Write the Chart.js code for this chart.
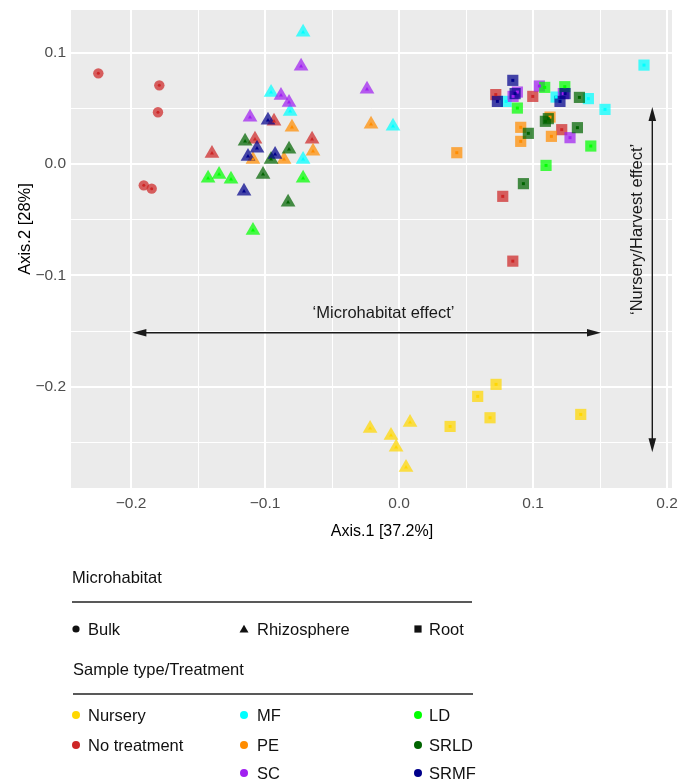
<!DOCTYPE html>
<html>
<head>
<meta charset="utf-8">
<script src="https://cdn.jsdelivr.net/npm/chart.js@4.4.1/dist/chart.umd.min.js"></script>
<style>
html,body{margin:0;padding:0;background:#fff;width:694px;height:782px;overflow:hidden;}
#wrap{position:absolute;left:0;top:0;width:694px;height:560px;}
#legend{position:absolute;left:0;top:0;width:694px;height:782px;pointer-events:none;}
</style>
</head>
<body>
<div id="wrap"><canvas id="c" width="694" height="560"></canvas></div>
<svg id="legend" width="694" height="782" xmlns="http://www.w3.org/2000/svg"></svg>
<script>
// ---------------- DATA ----------------
const habitats = ['Bulk', 'Rhizosphere', 'Root'];
const treatments = ['Nursery', 'No treatment', 'MF', 'PE', 'SC', 'LD', 'SRLD', 'SRMF'];
const xTickValues = [-0.2, -0.1, 0.0, 0.1, 0.2];
const yTickValues = [-0.2, -0.1, 0.0, 0.1];
const xTitle = 'Axis.1 [37.2%]';
const yTitle = 'Axis.2 [28%]';

// [Axis.1, Axis.2] coordinates per sample
const noTreatmentBulk = [[-0.2244, 0.0815], [-0.1789, 0.0707], [-0.1799, 0.0465], [-0.1905, -0.0191], [-0.1846, -0.0221]];

const nurseryRhizosphere = [[-0.0216, -0.2375], [-0.0060, -0.2438], [-0.0022, -0.2545], [0.0082, -0.2321], [0.0052, -0.2725]];
const noTreatmentRhizosphere = [[-0.0933, 0.0384], [-0.1075, 0.0222], [-0.1396, 0.0096], [-0.0649, 0.0222]];
const mfRhizosphere = [[-0.0716, 0.1183], [-0.0955, 0.0644], [-0.0813, 0.0473], [-0.0716, 0.0042], [-0.0045, 0.0339]];
const peRhizosphere = [[-0.0799, 0.0330], [-0.1090, 0.0042], [-0.0858, 0.0042], [-0.0642, 0.0114], [-0.0209, 0.0357]];
const scRhizosphere = [[-0.0731, 0.0878], [-0.0881, 0.0617], [-0.0821, 0.0554], [-0.1112, 0.0420], [-0.0239, 0.0671]];
const ldRhizosphere = [[-0.1425, -0.0128], [-0.1343, -0.0093], [-0.1254, -0.0137], [-0.0716, -0.0128], [-0.1090, -0.0596]];
const srldRhizosphere = [[-0.1149, 0.0204], [-0.0955, 0.0042], [-0.0821, 0.0132], [-0.1015, -0.0093], [-0.0828, -0.0344]];
const srmfRhizosphere = [[-0.0978, 0.0393], [-0.1060, 0.0141], [-0.1127, 0.0069], [-0.0925, 0.0087], [-0.1157, -0.0245]];

const nurseryRoot = [[0.0724, -0.1979], [0.0587, -0.2087], [0.0679, -0.2279], [0.0381, -0.2357], [0.1356, -0.2249]];
const noTreatmentRoot = [[0.0722, 0.0624], [0.0998, 0.0608], [0.1214, 0.0309], [0.0774, -0.0290], [0.0849, -0.0872]];
const mfRoot = [[0.0799, 0.0563], [0.1172, 0.0602], [0.1413, 0.0588], [0.1537, 0.0491], [0.1828, 0.0889]];
const peRoot = [[0.1127, 0.0422], [0.0908, 0.0330], [0.0908, 0.0204], [0.1137, 0.0249], [0.0431, 0.0102]];
const scRoot = [[0.1047, 0.0701], [0.0883, 0.0647], [0.0851, 0.0608], [0.1226, 0.0633], [0.1276, 0.0237]];
const ldRoot = [[0.1087, 0.0689], [0.1237, 0.0695], [0.0883, 0.0503], [0.1431, 0.0162], [0.1097, -0.0012]];
const srldRoot = [[0.1346, 0.0599], [0.1092, 0.0384], [0.1114, 0.0408], [0.0965, 0.0276], [0.1331, 0.0327], [0.0928, -0.0176]];
const srmfRoot = [[0.0849, 0.0752], [0.0734, 0.0563], [0.0866, 0.0633], [0.1201, 0.0563], [0.1239, 0.0633]];

const samples = [
  ['No treatment', 'Bulk', noTreatmentBulk],
  ['Nursery', 'Rhizosphere', nurseryRhizosphere],
  ['No treatment', 'Rhizosphere', noTreatmentRhizosphere],
  ['MF', 'Rhizosphere', mfRhizosphere],
  ['PE', 'Rhizosphere', peRhizosphere],
  ['SC', 'Rhizosphere', scRhizosphere],
  ['LD', 'Rhizosphere', ldRhizosphere],
  ['SRLD', 'Rhizosphere', srldRhizosphere],
  ['SRMF', 'Rhizosphere', srmfRhizosphere],
  ['Nursery', 'Root', nurseryRoot],
  ['No treatment', 'Root', noTreatmentRoot],
  ['MF', 'Root', mfRoot],
  ['PE', 'Root', peRoot],
  ['SC', 'Root', scRoot],
  ['LD', 'Root', ldRoot],
  ['SRLD', 'Root', srldRoot],
  ['SRMF', 'Root', srmfRoot]
];

// annotations (in data units)
const effectArrows = [
  {from: [-0.1990, -0.1515], to: [0.1507, -0.1515], label: '\u2018Microhabitat effect\u2019', at: [-0.0116, -0.1341], rotate: 0},
  {from: [0.1890, 0.0512], to: [0.1890, -0.2588], label: '\u2018Nursery/Harvest effect\u2019', at: [0.1780, -0.0587], rotate: -Math.PI / 2}
];

// ---------------- STYLE ----------------
const FONT = '"Liberation Sans", Arial, Helvetica, sans-serif';
const treatmentColor = {
  'Nursery': '#FFD700', 'No treatment': '#CD2626', 'MF': '#00FFFF', 'PE': '#FF8C00',
  'SC': '#A020F0', 'LD': '#00FF00', 'SRLD': '#006400', 'SRMF': '#00008B'
};
const habitatStyle = {
  'Bulk': {shape: 'circle', r: 5.2, dot: 1.5},
  'Rhizosphere': {shape: 'triangle', r: 8.5, dot: 2.3},
  'Root': {shape: 'rect', r: 7.9, dot: 2.1}
};
function rgba(hex, a) {
  const n = parseInt(hex.slice(1), 16);
  return `rgba(${(n >> 16) & 255},${(n >> 8) & 255},${n & 255},${a})`;
}
const near = (a, b) => Math.abs(a - b) < 1e-9;
function fmt(v) { const s = v.toFixed(1); return v < -1e-9 ? '\u2212' + s.slice(1) : s; }
function gridValues(majors, min, max) {
  const vals = [];
  const step = majors[1] - majors[0];
  for (let i = 0; i < majors.length; i++) {
    vals.push(majors[i], majors[i] + step / 2, majors[i] - step / 2);
  }
  return [...new Set(vals.map(v => Math.round(v * 1000) / 1000))].filter(v => v >= min && v <= max).sort((a, b) => a - b);
}

const X_MIN = -0.2448, X_MAX = 0.2037, Y_MIN = -0.2910, Y_MAX = 0.1384;

const datasets = [];
samples.forEach(([t, h, pts], i) => {
  const c = treatmentColor[t], s = habitatStyle[h];
  const data = pts.map(p => ({x: p[0], y: p[1]}));
  datasets.push({label: t + ' / ' + h, data, pointStyle: s.shape, pointRadius: s.r,
    pointBackgroundColor: rgba(c, 0.72), pointBorderWidth: 0, backgroundColor: rgba(c, 0.72), order: 200 - i});
  datasets.push({label: t + ' / ' + h + ' centre', data, pointStyle: s.shape, pointRadius: s.dot,
    pointBackgroundColor: c, pointBorderWidth: 0, backgroundColor: c, order: 100 - i});
});

const panelBg = {
  id: 'panelBg',
  beforeDraw(chart) {
    const {ctx, chartArea: a} = chart;
    ctx.save(); ctx.fillStyle = '#EBEBEB';
    ctx.fillRect(a.left, a.top, a.right - a.left, a.bottom - a.top); ctx.restore();
  }
};

const annot = {
  id: 'annot',
  afterDatasetsDraw(chart) {
    const {ctx, scales: {x, y}} = chart;
    ctx.save();
    ctx.strokeStyle = '#1a1a1a'; ctx.fillStyle = '#1a1a1a'; ctx.lineWidth = 1.4;
    const L = 14, W = 3.8;
    effectArrows.forEach(a => {
      const x1 = x.getPixelForValue(a.from[0]), y1 = y.getPixelForValue(a.from[1]);
      const x2 = x.getPixelForValue(a.to[0]), y2 = y.getPixelForValue(a.to[1]);
      const ang = Math.atan2(y2 - y1, x2 - x1), ux = Math.cos(ang), uy = Math.sin(ang);
      ctx.beginPath(); ctx.moveTo(x1 + ux * L * 0.8, y1 + uy * L * 0.8); ctx.lineTo(x2 - ux * L * 0.8, y2 - uy * L * 0.8); ctx.stroke();
      const head = (px, py, dx, dy) => {
        ctx.beginPath(); ctx.moveTo(px, py);
        ctx.lineTo(px - dx * L - dy * W, py - dy * L + dx * W);
        ctx.lineTo(px - dx * L + dy * W, py - dy * L - dx * W);
        ctx.closePath(); ctx.fill();
      };
      head(x2, y2, ux, uy); head(x1, y1, -ux, -uy);
      ctx.save();
      ctx.translate(x.getPixelForValue(a.at[0]), y.getPixelForValue(a.at[1]));
      ctx.rotate(a.rotate);
      ctx.font = '16.5px ' + FONT; ctx.textAlign = 'center'; ctx.textBaseline = 'middle';
      ctx.fillText(a.label, 0, 0);
      ctx.restore();
    });
    ctx.restore();
  },
  afterDraw(chart) {
    const ctx = chart.ctx;
    ctx.save(); ctx.fillStyle = '#000'; ctx.textAlign = 'center'; ctx.textBaseline = 'middle';
    ctx.font = '16px ' + FONT;
    ctx.fillText(xTitle, 382, 532);
    ctx.translate(25.5, 229); ctx.rotate(-Math.PI / 2);
    ctx.font = '16.5px ' + FONT;
    ctx.fillText(yTitle, 0, 0);
    ctx.restore();
  }
};

Chart.defaults.font.family = FONT;

new Chart(document.getElementById('c'), {
  type: 'scatter',
  data: {datasets},
  options: {
    responsive: false, animation: false, events: [],
    layout: {padding: {top: 10, right: 22, left: 0, bottom: 0}},
    plugins: {legend: {display: false}, tooltip: {enabled: false}},
    scales: {
      x: {
        type: 'linear', min: X_MIN, max: X_MAX,
        afterBuildTicks(s) { s.ticks = gridValues(xTickValues, X_MIN, X_MAX).map(v => ({value: v})); },
        afterFit(s) { s.height = 72; s.paddingLeft = 0; s.paddingRight = 0; },
        ticks: {
          autoSkip: false, maxRotation: 0, padding: 6, color: '#4D4D4D', font: {size: 15.5},
          callback(v) { return xTickValues.some(t => near(t, v)) ? fmt(v) : ''; }
        },
        grid: {
          color: '#FFFFFF', drawTicks: false,
          lineWidth(c) { return xTickValues.some(t => near(t, c.tick.value)) ? 2 : 1; }
        },
        border: {display: false}
      },
      y: {
        type: 'linear', min: Y_MIN, max: Y_MAX,
        afterBuildTicks(s) { s.ticks = gridValues(yTickValues, Y_MIN, Y_MAX).map(v => ({value: v})); },
        afterFit(s) { s.width = 71; s.paddingTop = 0; s.paddingBottom = 0; },
        ticks: {
          autoSkip: false, padding: 5, color: '#4D4D4D', font: {size: 15.5},
          callback(v) { return yTickValues.some(t => near(t, v)) ? fmt(v) : ''; }
        },
        grid: {
          color: '#FFFFFF', drawTicks: false,
          lineWidth(c) { return yTickValues.some(t => near(t, c.tick.value)) ? 2 : 1; }
        },
        border: {display: false}
      }
    }
  },
  plugins: [panelBg, annot]
});

// ---------------- LEGEND (real text, SVG) ----------------
const legendCols = [[76, 88], [244, 257], [418, 429]];
const treatmentSlot = {'Nursery': [0, 0], 'No treatment': [0, 1], 'MF': [1, 0], 'PE': [1, 1], 'SC': [1, 2], 'LD': [2, 0], 'SRLD': [2, 1], 'SRMF': [2, 2]};
const treatmentRows = [715, 745, 773];
const svg = document.getElementById('legend');
const NS = 'http://www.w3.org/2000/svg';
function el(name, attrs, text) {
  const e = document.createElementNS(NS, name);
  for (const k in attrs) e.setAttribute(k, attrs[k]);
  if (text !== undefined) e.textContent = text;
  svg.appendChild(e); return e;
}
function label(x, y, t) {
  el('text', {x, y, 'dominant-baseline': 'central', 'font-family': FONT, 'font-size': '16.5', fill: '#111'}, t);
}
label(72, 577, 'Microhabitat');
el('line', {x1: 72, y1: 602, x2: 472, y2: 602, stroke: '#222', 'stroke-width': 1.3});
habitats.forEach((h, i) => {
  const [mx, tx] = legendCols[i], y = 629;
  if (h === 'Bulk') el('circle', {cx: mx, cy: y, r: 3.6, fill: '#111'});
  if (h === 'Rhizosphere') el('polygon', {points: `${mx},${y - 4.2} ${mx - 4.5},${y + 3.6} ${mx + 4.5},${y + 3.6}`, fill: '#111'});
  if (h === 'Root') el('rect', {x: mx - 3.6, y: y - 3.6, width: 7.2, height: 7.2, fill: '#111'});
  label(tx, y, h);
});
label(73, 669, 'Sample type/Treatment');
el('line', {x1: 73, y1: 694, x2: 473, y2: 694, stroke: '#222', 'stroke-width': 1.3});
treatments.forEach(t => {
  const [col, row] = treatmentSlot[t];
  const [mx, tx] = legendCols[col], y = treatmentRows[row];
  el('circle', {cx: mx, cy: y, r: 4, fill: treatmentColor[t]});
  label(tx, y, t);
});
</script>
</body>
</html>
